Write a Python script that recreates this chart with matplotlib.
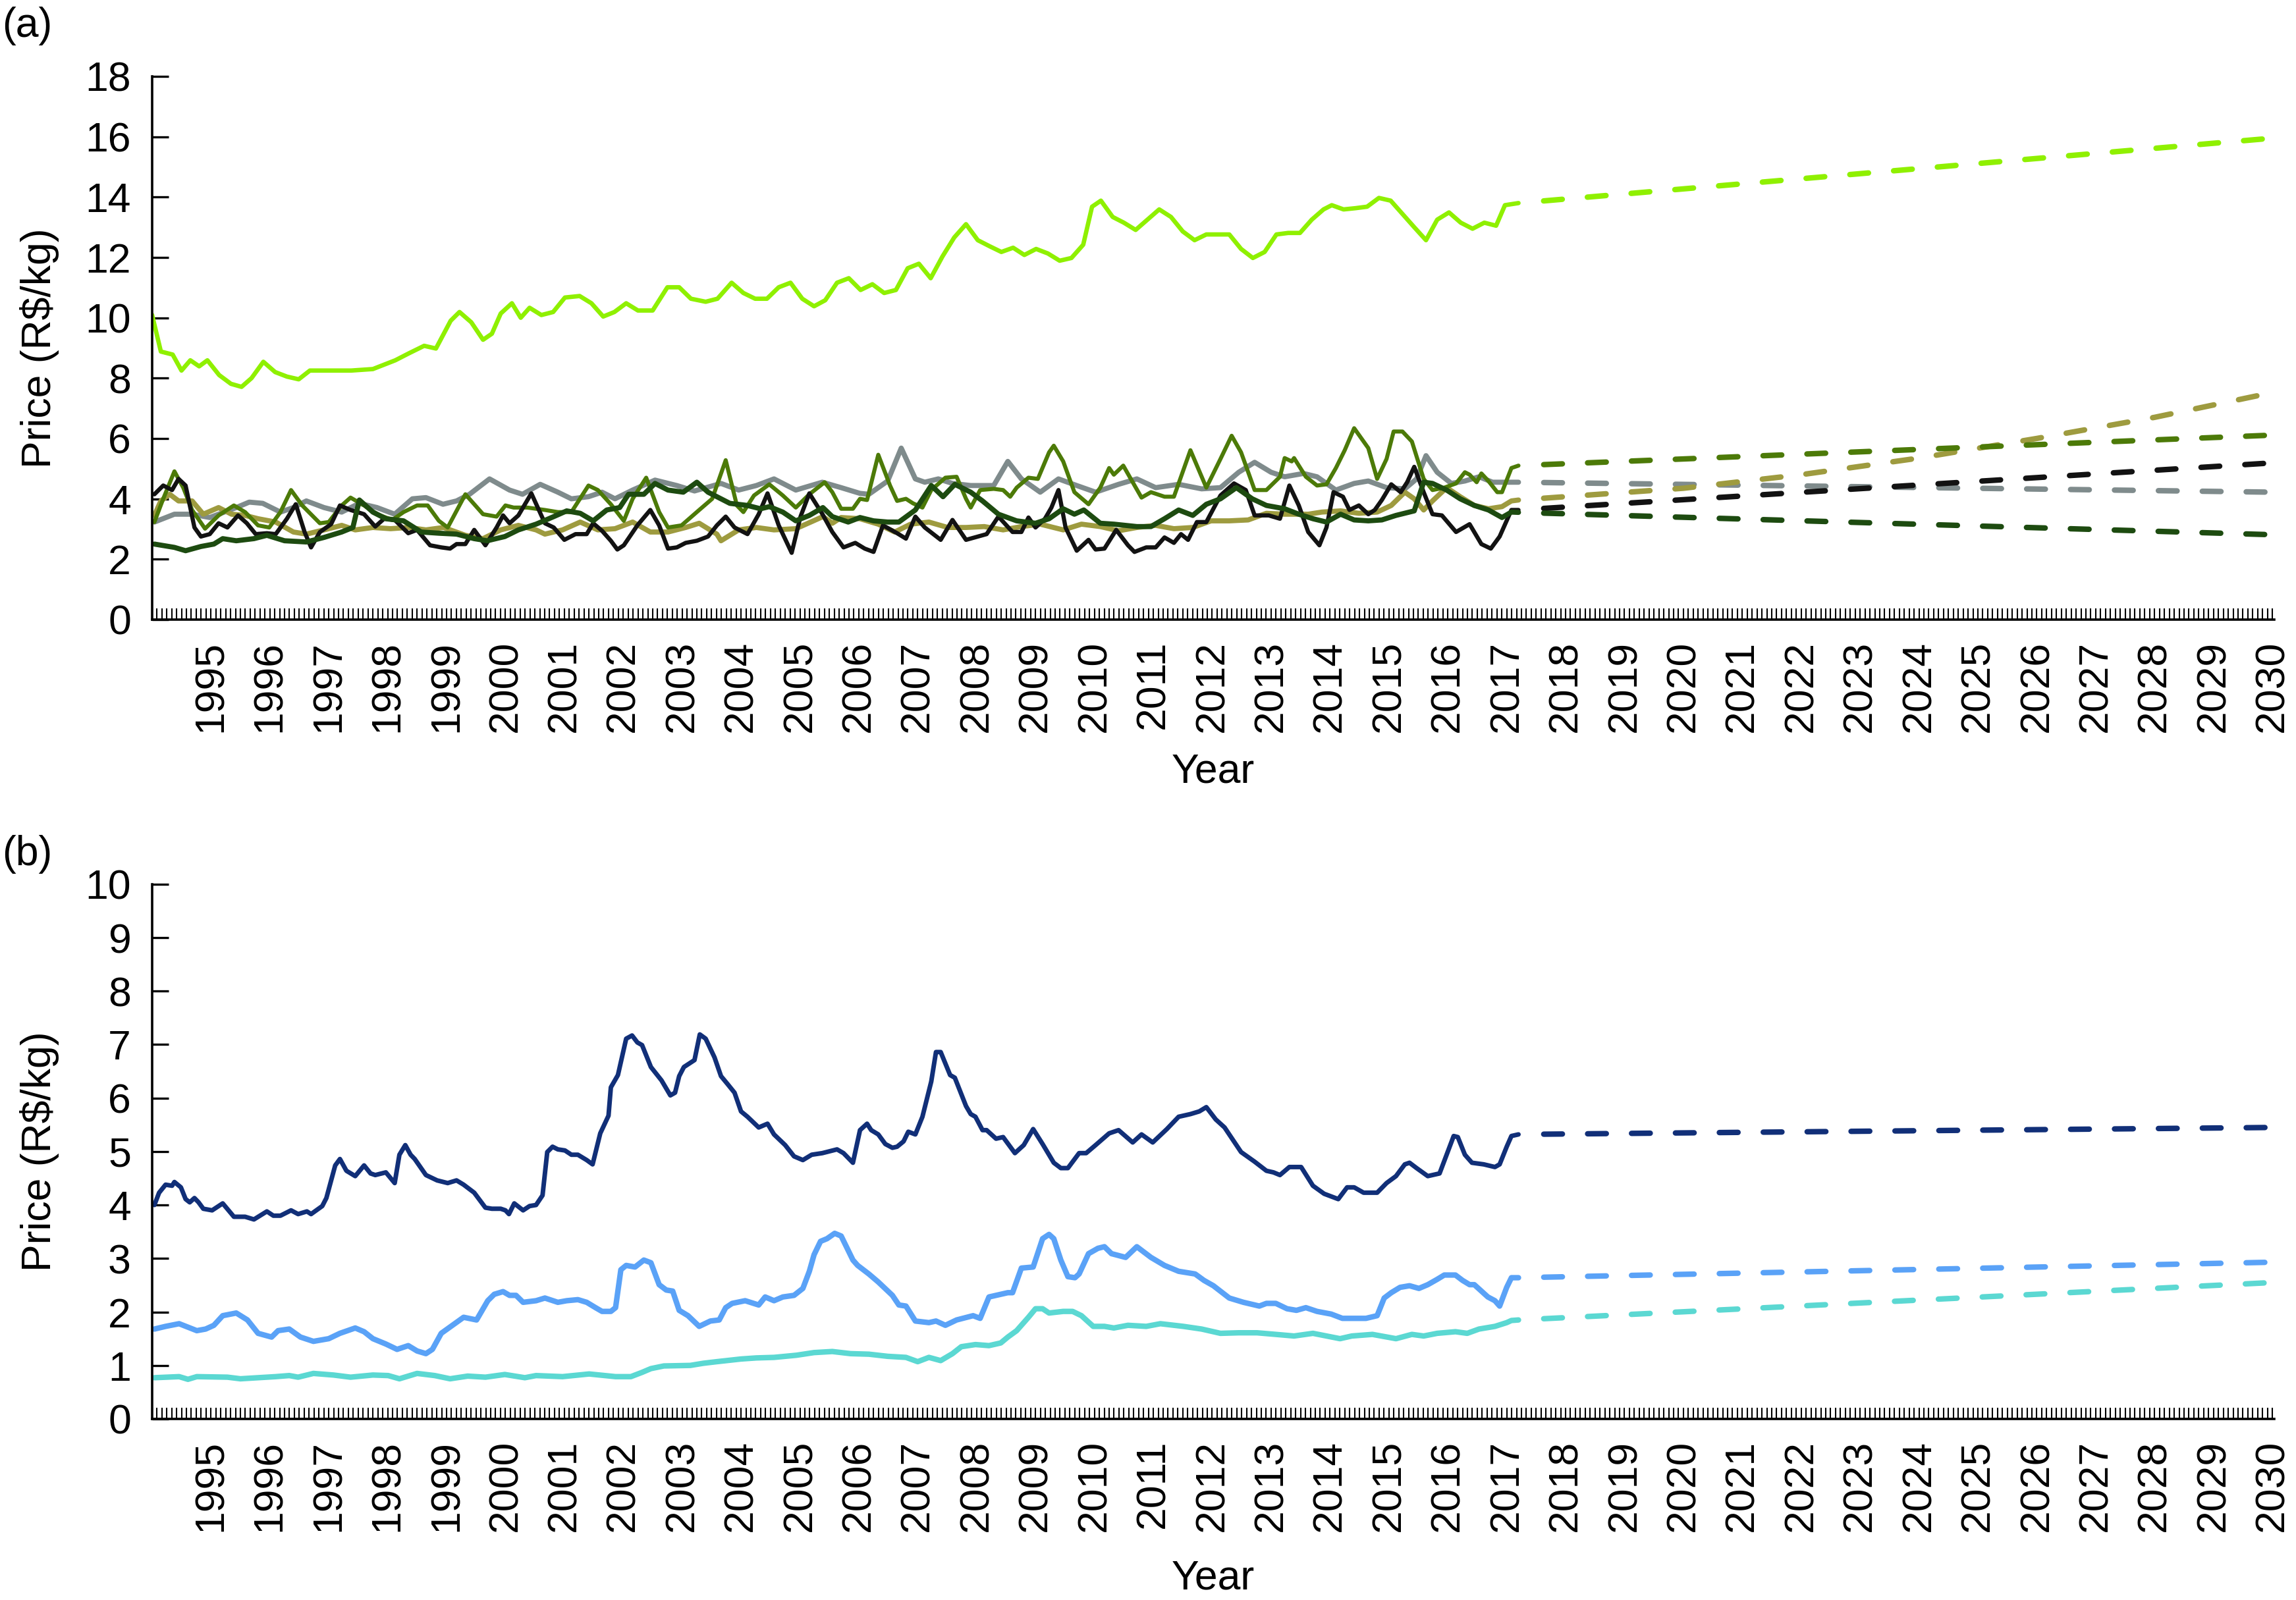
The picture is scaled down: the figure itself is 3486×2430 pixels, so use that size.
import numpy as np
import matplotlib
matplotlib.use("Agg")
import matplotlib.pyplot as plt
from matplotlib.ticker import FixedLocator

plt.rcParams['font.family'] = ['Liberation Sans', 'DejaVu Sans']

light_green = [(1994.0, 10.1), (1994.15, 8.88), (1994.35, 8.78), (1994.5, 8.25), (1994.65, 8.59), (1994.8, 8.39),
               (1994.94, 8.59), (1995.14, 8.1), (1995.34, 7.81), (1995.52, 7.71), (1995.69, 8.0), (1995.89, 8.54),
               (1996.09, 8.2), (1996.29, 8.05), (1996.49, 7.96), (1996.68, 8.25), (1997.0, 8.25), (1997.38, 8.25),
               (1997.75, 8.3), (1998.13, 8.59), (1998.37, 8.83), (1998.62, 9.07), (1998.82, 8.98), (1999.07, 9.9),
               (1999.22, 10.19), (1999.42, 9.85), (1999.62, 9.27), (1999.77, 9.47), (1999.92, 10.14), (2000.11, 10.48),
               (2000.26, 10.0), (2000.41, 10.33), (2000.61, 10.09), (2000.81, 10.19), (2001.01, 10.67), (2001.26, 10.72),
               (2001.46, 10.48), (2001.66, 10.04), (2001.85, 10.19), (2002.05, 10.48), (2002.25, 10.24), (2002.5, 10.24),
               (2002.75, 11.01), (2002.95, 11.01), (2003.15, 10.63), (2003.4, 10.53), (2003.6, 10.63), (2003.84, 11.16),
               (2004.04, 10.82), (2004.24, 10.63), (2004.44, 10.63), (2004.64, 11.01), (2004.84, 11.16), (2005.04, 10.63),
               (2005.24, 10.38), (2005.43, 10.58), (2005.63, 11.16), (2005.83, 11.31), (2006.03, 10.92), (2006.23, 11.11),
               (2006.43, 10.82), (2006.63, 10.92), (2006.83, 11.64), (2007.02, 11.79), (2007.22, 11.31), (2007.42, 12.03),
               (2007.62, 12.66), (2007.82, 13.1), (2008.02, 12.57), (2008.22, 12.37), (2008.42, 12.18), (2008.62, 12.32),
               (2008.81, 12.08), (2009.01, 12.28), (2009.21, 12.13), (2009.41, 11.89), (2009.61, 11.98), (2009.81, 12.42),
               (2009.96, 13.68), (2010.11, 13.88), (2010.31, 13.34), (2010.5, 13.15), (2010.7, 12.91), (2010.9, 13.25),
               (2011.1, 13.59), (2011.3, 13.34), (2011.5, 12.86), (2011.7, 12.57), (2011.9, 12.76), (2012.1, 12.76),
               (2012.29, 12.76), (2012.49, 12.28), (2012.69, 11.98), (2012.89, 12.18), (2013.09, 12.76), (2013.29, 12.81),
               (2013.49, 12.81), (2013.69, 13.25), (2013.89, 13.59), (2014.03, 13.73), (2014.23, 13.59), (2014.43, 13.63),
               (2014.63, 13.68), (2014.83, 13.97), (2015.03, 13.88), (2015.23, 13.44), (2015.43, 13.0), (2015.63, 12.57),
               (2015.82, 13.25), (2016.02, 13.49), (2016.22, 13.15), (2016.42, 12.95), (2016.62, 13.15), (2016.82, 13.05),
               (2016.97, 13.73), (2017.2, 13.8)]

gray = [(1994.04, 3.23), (1994.38, 3.49), (1994.68, 3.49), (1994.98, 3.38), (1995.43, 3.71), (1995.65, 3.89),
        (1995.88, 3.85), (1996.18, 3.56), (1996.4, 3.71), (1996.62, 3.93), (1996.92, 3.71), (1997.22, 3.56),
        (1997.52, 3.85), (1997.82, 3.71), (1998.12, 3.49), (1998.42, 4.0), (1998.65, 4.04), (1998.94, 3.82),
        (1999.17, 3.93), (1999.39, 4.15), (1999.73, 4.66), (2000.07, 4.29), (2000.29, 4.15), (2000.59, 4.48),
        (2000.89, 4.22), (2001.12, 4.0), (2001.41, 4.07), (2001.64, 4.22), (2001.86, 4.0), (2002.16, 4.29),
        (2002.54, 4.62), (2002.91, 4.44), (2003.21, 4.26), (2003.66, 4.51), (2003.96, 4.29), (2004.26, 4.44),
        (2004.56, 4.66), (2004.93, 4.29), (2005.38, 4.55), (2005.7, 4.37), (2006.02, 4.18), (2006.17, 4.15),
        (2006.49, 4.59), (2006.72, 5.68), (2006.96, 4.66), (2007.12, 4.55), (2007.35, 4.66), (2007.59, 4.51),
        (2007.9, 4.44), (2008.29, 4.44), (2008.53, 5.24), (2008.76, 4.66), (2009.08, 4.22), (2009.39, 4.66),
        (2009.7, 4.44), (2010.02, 4.22), (2010.41, 4.48), (2010.72, 4.66), (2011.04, 4.37), (2011.43, 4.48),
        (2011.82, 4.33), (2012.14, 4.37), (2012.45, 4.88), (2012.72, 5.21), (2013.0, 4.88), (2013.23, 4.73),
        (2013.55, 4.84), (2013.78, 4.73), (2014.1, 4.29), (2014.41, 4.51), (2014.65, 4.59), (2014.96, 4.37),
        (2015.27, 4.33), (2015.47, 4.66), (2015.63, 5.43), (2015.82, 4.88), (2016.06, 4.51), (2016.29, 4.59),
        (2016.53, 4.73), (2016.76, 4.55), (2016.92, 4.55), (2017.2, 4.55)]

olive = [(1994.04, 3.23), (1994.19, 4.0), (1994.38, 4.91), (1994.53, 4.37), (1994.68, 3.63), (1994.9, 3.01),
         (1995.13, 3.45), (1995.39, 3.78), (1995.58, 3.56), (1995.8, 3.12), (1995.99, 3.05), (1996.18, 3.56),
         (1996.36, 4.29), (1996.55, 3.78), (1996.85, 3.19), (1997.0, 3.23), (1997.22, 3.78), (1997.37, 4.04),
         (1997.6, 3.78), (1997.82, 3.49), (1998.08, 3.3), (1998.27, 3.56), (1998.5, 3.78), (1998.68, 3.78),
         (1998.87, 3.27), (1999.02, 3.05), (1999.32, 4.15), (1999.62, 3.49), (1999.85, 3.41), (2000.0, 3.78),
         (2000.14, 3.71), (2000.37, 3.71), (2000.67, 3.63), (2000.89, 3.56), (2001.12, 3.56), (2001.41, 4.44),
         (2001.57, 4.29), (2001.79, 3.82), (2002.01, 3.27), (2002.16, 4.0), (2002.39, 4.7), (2002.61, 3.56),
         (2002.76, 3.05), (2002.99, 3.12), (2003.29, 3.63), (2003.51, 4.0), (2003.74, 5.28), (2003.93, 3.78),
         (2004.04, 3.56), (2004.22, 4.11), (2004.48, 4.48), (2004.71, 4.11), (2004.93, 3.71), (2005.16, 4.15),
         (2005.42, 4.55), (2005.55, 4.22), (2005.7, 3.67), (2005.9, 3.67), (2006.02, 4.0), (2006.14, 3.96),
         (2006.33, 5.46), (2006.53, 4.44), (2006.65, 3.93), (2006.8, 4.0), (2006.92, 3.85), (2007.08, 3.71),
         (2007.23, 4.29), (2007.47, 4.7), (2007.66, 4.73), (2007.82, 4.0), (2007.9, 3.71), (2008.06, 4.29),
         (2008.29, 4.33), (2008.45, 4.29), (2008.57, 4.07), (2008.68, 4.37), (2008.88, 4.7), (2009.04, 4.66),
         (2009.23, 5.54), (2009.31, 5.76), (2009.47, 5.24), (2009.66, 4.22), (2009.9, 3.82), (2010.1, 4.37),
         (2010.25, 5.02), (2010.33, 4.8), (2010.49, 5.1), (2010.65, 4.55), (2010.8, 4.04), (2010.96, 4.22),
         (2011.19, 4.07), (2011.35, 4.07), (2011.63, 5.61), (2011.9, 4.37), (2012.14, 5.32), (2012.33, 6.09),
         (2012.49, 5.54), (2012.72, 4.29), (2012.92, 4.29), (2013.15, 4.73), (2013.23, 5.35), (2013.35, 5.24),
         (2013.39, 5.35), (2013.59, 4.73), (2013.78, 4.44), (2013.94, 4.48), (2014.1, 5.02), (2014.25, 5.61),
         (2014.41, 6.34), (2014.65, 5.68), (2014.8, 4.66), (2014.96, 5.32), (2015.08, 6.23), (2015.23, 6.23),
         (2015.39, 5.9), (2015.59, 4.66), (2015.74, 4.29), (2015.94, 4.37), (2016.14, 4.51), (2016.29, 4.88),
         (2016.37, 4.8), (2016.49, 4.55), (2016.57, 4.84), (2016.69, 4.59), (2016.84, 4.22), (2016.92, 4.22),
         (2017.08, 5.02), (2017.2, 5.1)]

khaki = [(1994.04, 3.45), (1994.15, 3.93), (1994.3, 4.15), (1994.45, 3.93), (1994.68, 3.93), (1994.87, 3.49),
         (1995.13, 3.71), (1995.35, 3.49), (1995.58, 3.45), (1995.8, 3.34), (1996.1, 3.23), (1996.4, 2.9),
         (1996.62, 2.83), (1996.92, 2.97), (1997.22, 3.12), (1997.45, 2.97), (1997.75, 3.05), (1998.05, 3.01),
         (1998.35, 3.05), (1998.65, 2.97), (1998.95, 3.05), (1999.32, 2.79), (1999.62, 2.68), (1999.92, 2.97),
         (2000.22, 3.12), (2000.52, 2.97), (2000.67, 2.83), (2000.97, 2.97), (2001.27, 3.23), (2001.57, 2.97),
         (2001.86, 3.01), (2002.16, 3.23), (2002.46, 2.9), (2002.76, 2.9), (2003.06, 3.05), (2003.29, 3.19),
         (2003.59, 2.83), (2003.66, 2.61), (2003.96, 2.97), (2004.26, 3.05), (2004.56, 2.97), (2004.93, 3.01),
         (2005.23, 3.27), (2005.39, 3.41), (2005.55, 3.19), (2005.7, 3.38), (2006.02, 3.34), (2006.33, 3.16),
         (2006.61, 2.9), (2006.88, 3.16), (2007.19, 3.23), (2007.51, 3.05), (2007.82, 3.05), (2008.13, 3.08),
         (2008.45, 2.97), (2008.76, 3.08), (2009.08, 3.16), (2009.47, 2.97), (2009.78, 3.16), (2010.1, 3.08),
         (2010.41, 2.94), (2010.72, 3.05), (2011.04, 3.12), (2011.35, 3.01), (2011.67, 3.05), (2011.98, 3.27),
         (2012.29, 3.27), (2012.61, 3.3), (2012.92, 3.52), (2013.23, 3.49), (2013.63, 3.49), (2013.86, 3.56),
         (2014.18, 3.6), (2014.49, 3.52), (2014.8, 3.56), (2015.04, 3.78), (2015.27, 4.22), (2015.43, 4.0),
         (2015.59, 3.63), (2015.74, 3.93), (2015.98, 4.37), (2016.21, 4.07), (2016.45, 3.78), (2016.69, 3.67),
         (2016.92, 3.74), (2017.08, 3.93), (2017.2, 3.96)]

black = [(1994.04, 4.15), (1994.19, 4.44), (1994.34, 4.29), (1994.45, 4.66), (1994.57, 4.44), (1994.72, 3.05),
         (1994.83, 2.75), (1994.98, 2.83), (1995.13, 3.19), (1995.28, 3.05), (1995.46, 3.45), (1995.61, 3.19),
         (1995.76, 2.83), (1995.95, 2.86), (1996.1, 2.83), (1996.29, 3.34), (1996.44, 3.82), (1996.59, 2.9),
         (1996.7, 2.39), (1996.85, 2.9), (1997.04, 3.16), (1997.19, 3.78), (1997.37, 3.63), (1997.6, 3.49),
         (1997.79, 3.08), (1997.94, 3.34), (1998.12, 3.3), (1998.35, 2.86), (1998.5, 2.97), (1998.72, 2.46),
         (1998.91, 2.39), (1999.06, 2.35), (1999.17, 2.5), (1999.32, 2.5), (1999.47, 2.97), (1999.66, 2.46),
         (1999.85, 3.05), (1999.96, 3.45), (2000.07, 3.19), (2000.22, 3.45), (2000.44, 4.18), (2000.67, 3.19),
         (2000.82, 3.05), (2001.0, 2.64), (2001.19, 2.83), (2001.38, 2.83), (2001.49, 3.19), (2001.64, 2.94),
         (2001.79, 2.61), (2001.9, 2.32), (2002.01, 2.46), (2002.24, 3.12), (2002.46, 3.63), (2002.61, 3.12),
         (2002.76, 2.35), (2002.91, 2.39), (2003.06, 2.54), (2003.25, 2.61), (2003.44, 2.75), (2003.59, 3.12),
         (2003.74, 3.41), (2003.89, 3.05), (2004.11, 2.83), (2004.3, 3.49), (2004.45, 4.18), (2004.64, 3.12),
         (2004.86, 2.21), (2005.01, 3.41), (2005.16, 4.18), (2005.38, 3.5), (2005.55, 2.9), (2005.74, 2.39),
         (2005.94, 2.54), (2006.1, 2.35), (2006.25, 2.24), (2006.41, 3.12), (2006.65, 2.86), (2006.8, 2.68),
         (2006.96, 3.41), (2007.12, 3.05), (2007.39, 2.64), (2007.59, 3.3), (2007.82, 2.64), (2008.17, 2.83),
         (2008.37, 3.41), (2008.61, 2.9), (2008.76, 2.9), (2008.88, 3.38), (2009.0, 3.05), (2009.16, 3.34),
         (2009.27, 3.71), (2009.39, 4.29), (2009.51, 3.05), (2009.7, 2.28), (2009.9, 2.64), (2010.02, 2.32),
         (2010.17, 2.35), (2010.37, 2.97), (2010.57, 2.46), (2010.68, 2.24), (2010.88, 2.39), (2011.04, 2.39),
         (2011.19, 2.72), (2011.35, 2.54), (2011.47, 2.83), (2011.59, 2.64), (2011.74, 3.23), (2011.9, 3.23),
         (2012.14, 4.11), (2012.37, 4.51), (2012.57, 4.29), (2012.72, 3.45), (2012.96, 3.45), (2013.15, 3.34),
         (2013.31, 4.44), (2013.47, 3.78), (2013.63, 2.9), (2013.82, 2.46), (2013.94, 3.05), (2014.06, 4.22),
         (2014.22, 4.07), (2014.33, 3.63), (2014.49, 3.78), (2014.65, 3.49), (2014.76, 3.63), (2014.88, 3.96),
         (2015.04, 4.48), (2015.2, 4.22), (2015.31, 4.55), (2015.43, 5.06), (2015.59, 4.22), (2015.74, 3.49),
         (2015.9, 3.45), (2016.14, 2.9), (2016.37, 3.16), (2016.57, 2.5), (2016.73, 2.35), (2016.88, 2.75),
         (2017.08, 3.63), (2017.2, 3.63)]

dark_green = [(1994.04, 2.5), (1994.38, 2.39), (1994.57, 2.28), (1994.83, 2.42), (1995.05, 2.5), (1995.2, 2.68),
              (1995.43, 2.61), (1995.73, 2.68), (1995.95, 2.79), (1996.25, 2.61), (1996.62, 2.57), (1996.92, 2.72),
              (1997.22, 2.9), (1997.41, 3.05), (1997.52, 3.96), (1997.75, 3.56), (1997.97, 3.34), (1998.27, 3.27),
              (1998.57, 2.9), (1998.87, 2.86), (1999.17, 2.83), (1999.47, 2.68), (1999.69, 2.61), (1999.99, 2.75),
              (2000.22, 2.97), (2000.52, 3.16), (2000.82, 3.41), (2001.04, 3.6), (2001.27, 3.52), (2001.49, 3.27),
              (2001.72, 3.63), (2001.94, 3.71), (2002.09, 4.15), (2002.35, 4.15), (2002.54, 4.51), (2002.76, 4.29),
              (2003.02, 4.22), (2003.25, 4.55), (2003.44, 4.22), (2003.66, 4.0), (2003.81, 3.85), (2004.11, 3.78),
              (2004.33, 3.67), (2004.48, 3.74), (2004.71, 3.56), (2004.93, 3.27), (2005.16, 3.45), (2005.39, 3.71),
              (2005.55, 3.41), (2005.82, 3.23), (2006.02, 3.38), (2006.25, 3.27), (2006.49, 3.23), (2006.68, 3.23),
              (2006.96, 3.63), (2007.23, 4.44), (2007.43, 4.07), (2007.63, 4.48), (2007.9, 4.22), (2008.1, 3.93),
              (2008.37, 3.49), (2008.68, 3.27), (2009.0, 3.19), (2009.23, 3.34), (2009.47, 3.67), (2009.66, 3.49),
              (2009.82, 3.63), (2010.1, 3.19), (2010.33, 3.16), (2010.72, 3.08), (2010.96, 3.08), (2011.19, 3.34),
              (2011.43, 3.63), (2011.67, 3.45), (2011.9, 3.82), (2012.14, 4.0), (2012.41, 4.37), (2012.68, 4.0),
              (2012.92, 3.78), (2013.23, 3.67), (2013.47, 3.49), (2013.71, 3.34), (2013.94, 3.23), (2014.18, 3.49),
              (2014.41, 3.3), (2014.65, 3.27), (2014.88, 3.3), (2015.12, 3.45), (2015.43, 3.6), (2015.59, 4.55),
              (2015.74, 4.51), (2015.98, 4.29), (2016.21, 4.0), (2016.45, 3.78), (2016.69, 3.63), (2016.92, 3.38),
              (2017.08, 3.56), (2017.2, 3.55)]

# ---- panel (a) projections to 2030 (dashed) ----
light_green_proj = [(2030, 15.95)]
gray_proj = [(2030, 4.22)]
olive_proj = [(2030, 6.11)]
khaki_proj = [(2020, 4.35), (2022, 4.8), (2024, 5.35), (2026, 6.0), (2028, 6.7), (2030, 7.52)]
black_proj = [(2030, 5.19)]
dark_green_proj = [(2030, 2.81)]

# ---- panel (b) observed series ----
navy = [(1994.04, 4.0), (1994.12, 4.23), (1994.23, 4.38), (1994.34, 4.36), (1994.38, 4.43), (1994.49, 4.33),
        (1994.57, 4.11), (1994.64, 4.05), (1994.72, 4.13), (1994.79, 4.05), (1994.87, 3.93), (1995.02, 3.9),
        (1995.2, 4.03), (1995.39, 3.78), (1995.58, 3.78), (1995.73, 3.73), (1995.95, 3.88), (1996.06, 3.8),
        (1996.18, 3.8), (1996.36, 3.9), (1996.48, 3.83), (1996.63, 3.88), (1996.7, 3.83), (1996.89, 3.98),
        (1996.96, 4.13), (1997.11, 4.74), (1997.19, 4.86), (1997.3, 4.64), (1997.45, 4.54), (1997.6, 4.74),
        (1997.71, 4.59), (1997.79, 4.56), (1997.97, 4.61), (1998.12, 4.41), (1998.2, 4.94), (1998.3, 5.12),
        (1998.39, 4.94), (1998.46, 4.86), (1998.65, 4.56), (1998.84, 4.46), (1999.02, 4.41), (1999.17, 4.46),
        (1999.29, 4.38), (1999.47, 4.23), (1999.66, 3.95), (1999.77, 3.93), (1999.92, 3.93), (2000.0, 3.9),
        (2000.06, 3.83), (2000.15, 4.03), (2000.3, 3.9), (2000.41, 3.98), (2000.52, 4.0), (2000.63, 4.18),
        (2000.71, 4.99), (2000.8, 5.09), (2000.89, 5.04), (2001.01, 5.02), (2001.12, 4.94), (2001.23, 4.94),
        (2001.38, 4.84), (2001.48, 4.76), (2001.61, 5.34), (2001.75, 5.67), (2001.79, 6.2), (2001.91, 6.43),
        (2002.05, 7.11), (2002.15, 7.17), (2002.24, 7.04), (2002.32, 6.99), (2002.47, 6.58), (2002.65, 6.33),
        (2002.8, 6.05), (2002.88, 6.1), (2002.95, 6.41), (2003.03, 6.58), (2003.21, 6.71), (2003.3, 7.19),
        (2003.4, 7.11), (2003.55, 6.76), (2003.66, 6.41), (2003.78, 6.25), (2003.89, 6.1), (2004.0, 5.75),
        (2004.11, 5.65), (2004.3, 5.45), (2004.45, 5.52), (2004.56, 5.32), (2004.75, 5.12), (2004.9, 4.91),
        (2005.05, 4.84), (2005.2, 4.94), (2005.38, 4.97), (2005.63, 5.04), (2005.74, 4.97), (2005.9, 4.79),
        (2006.02, 5.4), (2006.14, 5.52), (2006.21, 5.4), (2006.33, 5.32), (2006.45, 5.14), (2006.57, 5.07),
        (2006.65, 5.09), (2006.76, 5.19), (2006.84, 5.37), (2006.96, 5.32), (2007.08, 5.65), (2007.23, 6.31),
        (2007.31, 6.86), (2007.39, 6.86), (2007.55, 6.43), (2007.63, 6.38), (2007.82, 5.85), (2007.9, 5.7),
        (2007.98, 5.65), (2008.1, 5.4), (2008.17, 5.4), (2008.33, 5.24), (2008.45, 5.27), (2008.65, 4.97),
        (2008.8, 5.12), (2008.96, 5.42), (2009.12, 5.14), (2009.31, 4.79), (2009.43, 4.69), (2009.55, 4.69),
        (2009.74, 4.97), (2009.86, 4.97), (2010.02, 5.12), (2010.25, 5.34), (2010.41, 5.4), (2010.65, 5.17),
        (2010.8, 5.32), (2010.99, 5.17), (2011.23, 5.42), (2011.43, 5.65), (2011.63, 5.7), (2011.78, 5.75),
        (2011.9, 5.83), (2012.06, 5.6), (2012.21, 5.45), (2012.49, 4.99), (2012.72, 4.81), (2012.92, 4.64),
        (2013.04, 4.61), (2013.15, 4.56), (2013.31, 4.71), (2013.51, 4.71), (2013.71, 4.36), (2013.9, 4.21),
        (2014.14, 4.11), (2014.29, 4.33), (2014.41, 4.33), (2014.57, 4.23), (2014.8, 4.23), (2014.96, 4.41),
        (2015.12, 4.54), (2015.27, 4.76), (2015.35, 4.79), (2015.47, 4.69), (2015.66, 4.54), (2015.86, 4.59),
        (2015.98, 4.94), (2016.1, 5.29), (2016.17, 5.27), (2016.29, 4.94), (2016.41, 4.79), (2016.61, 4.76),
        (2016.8, 4.71), (2016.88, 4.76), (2017.0, 5.09), (2017.08, 5.29), (2017.2, 5.32)]

light_blue = [(1994.04, 1.68), (1994.23, 1.73), (1994.46, 1.78), (1994.76, 1.65), (1994.91, 1.68), (1995.05, 1.75),
              (1995.2, 1.93), (1995.43, 1.98), (1995.62, 1.85), (1995.8, 1.6), (1996.03, 1.53), (1996.14, 1.65),
              (1996.33, 1.68), (1996.52, 1.53), (1996.74, 1.45), (1997.0, 1.5), (1997.19, 1.6), (1997.45, 1.7),
              (1997.6, 1.63), (1997.75, 1.5), (1997.97, 1.4), (1998.16, 1.3), (1998.35, 1.37), (1998.5, 1.27),
              (1998.65, 1.22), (1998.76, 1.3), (1998.91, 1.6), (1999.1, 1.75), (1999.29, 1.9), (1999.51, 1.85),
              (1999.7, 2.21), (1999.81, 2.33), (1999.96, 2.38), (2000.07, 2.31), (2000.18, 2.31), (2000.3, 2.18),
              (2000.52, 2.21), (2000.67, 2.26), (2000.89, 2.18), (2001.04, 2.21), (2001.23, 2.23), (2001.38, 2.18),
              (2001.53, 2.08), (2001.64, 2.01), (2001.79, 2.01), (2001.87, 2.08), (2001.96, 2.79), (2002.05, 2.87),
              (2002.2, 2.84), (2002.35, 2.97), (2002.47, 2.92), (2002.61, 2.51), (2002.73, 2.41), (2002.84, 2.39),
              (2002.95, 2.03), (2003.1, 1.93), (2003.29, 1.73), (2003.48, 1.83), (2003.63, 1.85), (2003.74, 2.08),
              (2003.85, 2.16), (2004.07, 2.21), (2004.3, 2.13), (2004.41, 2.28), (2004.56, 2.21), (2004.71, 2.28),
              (2004.9, 2.31), (2005.05, 2.44), (2005.16, 2.76), (2005.24, 3.07), (2005.35, 3.32), (2005.46, 3.37),
              (2005.59, 3.47), (2005.7, 3.42), (2005.9, 2.97), (2005.98, 2.87), (2006.17, 2.71), (2006.33, 2.56),
              (2006.57, 2.31), (2006.68, 2.13), (2006.8, 2.11), (2006.96, 1.83), (2007.19, 1.8), (2007.31, 1.83),
              (2007.47, 1.75), (2007.66, 1.85), (2007.94, 1.93), (2008.06, 1.88), (2008.21, 2.28), (2008.33, 2.31),
              (2008.53, 2.36), (2008.61, 2.36), (2008.76, 2.82), (2008.96, 2.84), (2009.12, 3.37), (2009.23, 3.45),
              (2009.31, 3.37), (2009.43, 2.97), (2009.55, 2.66), (2009.67, 2.64), (2009.74, 2.71), (2009.9, 3.09),
              (2010.06, 3.19), (2010.17, 3.22), (2010.29, 3.09), (2010.53, 3.02), (2010.72, 3.22), (2010.96, 3.02),
              (2011.19, 2.87), (2011.43, 2.76), (2011.71, 2.71), (2011.86, 2.59), (2012.02, 2.49), (2012.29, 2.26),
              (2012.53, 2.18), (2012.8, 2.11), (2012.92, 2.16), (2013.08, 2.16), (2013.27, 2.06), (2013.43, 2.03),
              (2013.59, 2.08), (2013.78, 2.01), (2014.02, 1.96), (2014.21, 1.88), (2014.49, 1.88), (2014.61, 1.88),
              (2014.8, 1.93), (2014.92, 2.26), (2015.04, 2.36), (2015.19, 2.46), (2015.35, 2.49), (2015.51, 2.44),
              (2015.66, 2.51), (2015.82, 2.61), (2015.94, 2.69), (2016.13, 2.69), (2016.25, 2.59), (2016.37, 2.51),
              (2016.45, 2.51), (2016.68, 2.28), (2016.8, 2.21), (2016.88, 2.11), (2017.0, 2.46), (2017.08, 2.64),
              (2017.2, 2.64)]

turquoise = [(1994.04, 0.77), (1994.46, 0.79), (1994.61, 0.74), (1994.76, 0.79), (1995.28, 0.78), (1995.5, 0.75),
             (1995.8, 0.77), (1996.1, 0.79), (1996.33, 0.81), (1996.48, 0.78), (1996.74, 0.85), (1997.08, 0.82),
             (1997.37, 0.78), (1997.75, 0.82), (1998.01, 0.81), (1998.2, 0.75), (1998.5, 0.85), (1998.8, 0.81),
             (1999.06, 0.75), (1999.36, 0.8), (1999.66, 0.78), (1999.99, 0.83), (2000.33, 0.77), (2000.52, 0.81),
             (2000.97, 0.79), (2001.42, 0.84), (2001.87, 0.79), (2002.13, 0.79), (2002.32, 0.87), (2002.47, 0.94),
             (2002.69, 0.99), (2003.14, 1.0), (2003.36, 1.04), (2003.59, 1.07), (2004.0, 1.12), (2004.26, 1.14),
             (2004.56, 1.15), (2004.94, 1.19), (2005.24, 1.24), (2005.55, 1.26), (2005.86, 1.22), (2006.17, 1.21),
             (2006.49, 1.17), (2006.8, 1.15), (2007.0, 1.07), (2007.19, 1.15), (2007.39, 1.09), (2007.59, 1.22),
             (2007.74, 1.35), (2007.98, 1.39), (2008.21, 1.37), (2008.41, 1.42), (2008.53, 1.53), (2008.68, 1.65),
             (2008.88, 1.9), (2009.0, 2.06), (2009.12, 2.06), (2009.23, 1.98), (2009.47, 2.01), (2009.63, 2.01),
             (2009.78, 1.93), (2009.98, 1.73), (2010.17, 1.73), (2010.33, 1.7), (2010.57, 1.75), (2010.88, 1.73),
             (2011.12, 1.78), (2011.51, 1.73), (2011.82, 1.68), (2012.14, 1.6), (2012.45, 1.61), (2012.76, 1.61),
             (2013.08, 1.58), (2013.39, 1.55), (2013.71, 1.6), (2013.94, 1.55), (2014.17, 1.5), (2014.37, 1.55),
             (2014.72, 1.58), (2015.12, 1.5), (2015.39, 1.58), (2015.59, 1.55), (2015.82, 1.6), (2016.13, 1.63),
             (2016.33, 1.6), (2016.53, 1.68), (2016.8, 1.73), (2017.0, 1.8), (2017.08, 1.84), (2017.2, 1.85)]

navy_proj = [(2030, 5.45)]
light_blue_proj = [(2030, 2.93)]
turquoise_proj = [(2030, 2.55)]

year_labels = list(range(1995, 2031))

# ---- styling ----
FS = 45
DASH_LW = 6.0
DASH = (3.4, (3.4, 4.6))

fig = plt.figure(figsize=(34.87, 24.30), dpi=100)
ax_a = fig.add_axes([0.0662, 0.6128, 0.9240, 0.3395])
ax_b = fig.add_axes([0.0662, 0.1132, 0.9240, 0.3342])


def draw(ax, obs, proj, color, lw):
    o = np.array(obs)
    ax.plot(o[:, 0], o[:, 1], color=color, lw=lw, solid_joinstyle='round', solid_capstyle='round')
    p = np.array([obs[-1]] + proj)
    ax.plot(p[:, 0], p[:, 1], color=color, lw=DASH_LW, linestyle=DASH, dash_capstyle='round')


def style(ax, ymax, ystep):
    ax.set_xlim(1994, 2030.03)
    ax.set_ylim(0, ymax)
    ax.set_yticks(np.arange(0, ymax + 0.1, ystep))
    ax.xaxis.set_major_locator(FixedLocator(year_labels))
    ax.set_xticklabels([str(y) for y in year_labels], rotation=90, fontsize=FS)
    ax.xaxis.set_minor_locator(FixedLocator(1994 + np.arange(0, 36 * 12 + 1) / 12.0))
    for s in ['top', 'right']:
        ax.spines[s].set_visible(False)
    for s in ['left', 'bottom']:
        ax.spines[s].set_linewidth(2.6)
    ax.tick_params(axis='x', which='both', direction='in', length=12, width=1.5, pad=23)
    ax.tick_params(axis='y', direction='in', length=18, width=2.4, pad=23, labelsize=FS)
    for lab in ax.get_xticklabels():
        lab.set_va('top')
        lab.set_ha('center')


draw(ax_a, gray, gray_proj, '#7F8B8C', 5.6)
draw(ax_a, khaki, khaki_proj, '#9E9B3F', 5.6)
draw(ax_a, olive, olive_proj, '#4C7A08', 4.4)
draw(ax_a, black, black_proj, '#121212', 4.6)
draw(ax_a, dark_green, dark_green_proj, '#1D4B10', 5.6)
draw(ax_a, light_green, light_green_proj, '#8FF000', 4.8)
style(ax_a, 18, 2)

draw(ax_b, navy, navy_proj, '#112F78', 5.0)
draw(ax_b, light_blue, light_blue_proj, '#5AA2F7', 6.0)
draw(ax_b, turquoise, turquoise_proj, '#5BD8D2', 6.0)
style(ax_b, 10, 1)

fig.text(0.0172, 0.7825, 'Price (R$/kg)', rotation=90, ha='center', va='center', fontsize=FS)
fig.text(0.0172, 0.2802, 'Price (R$/kg)', rotation=90, ha='center', va='center', fontsize=FS)
fig.text(0.5283, 0.5177, 'Year', ha='center', va='center', fontsize=FS)
fig.text(0.5283, 0.0136, 'Year', ha='center', va='center', fontsize=FS)
fig.text(0.001, 0.996, '(a)', ha='left', va='top', fontsize=FS)
fig.text(0.001, 0.4782, '(b)', ha='left', va='top', fontsize=FS)

fig.savefig('out.png', dpi=100)
